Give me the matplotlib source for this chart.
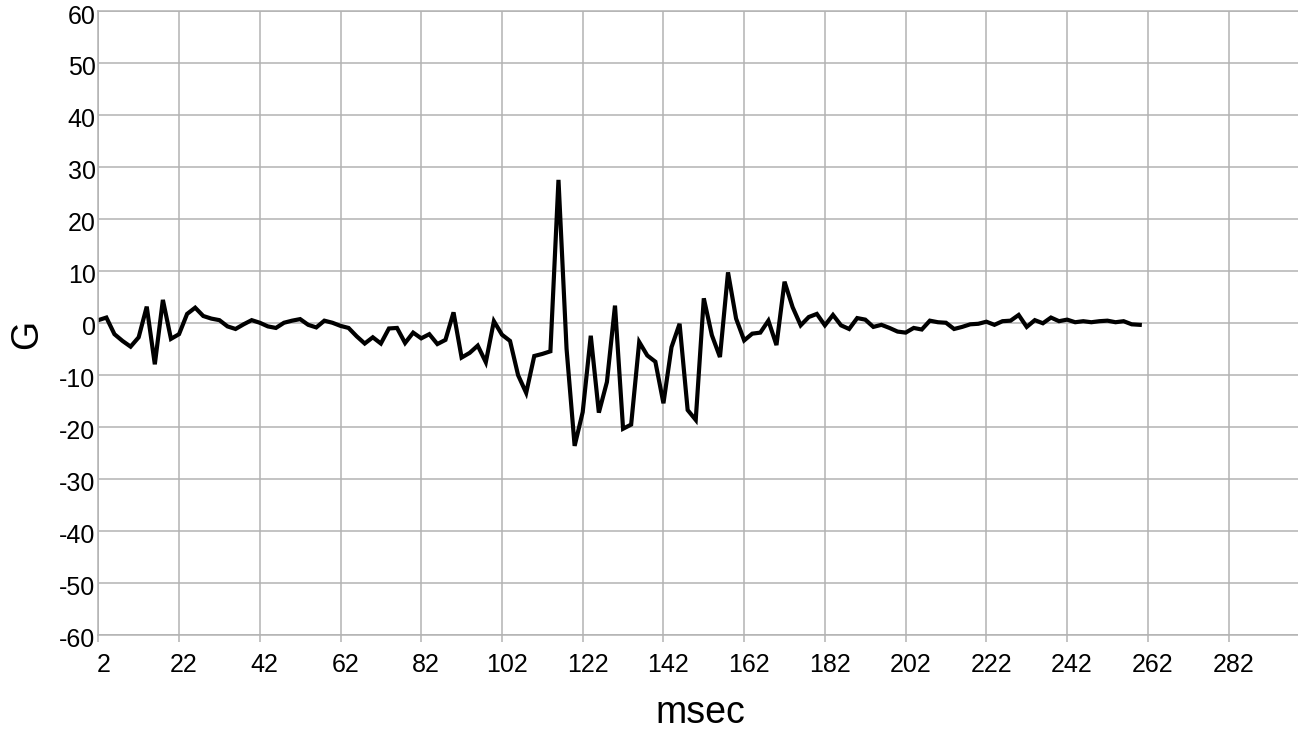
import numpy as np
import matplotlib
matplotlib.use("Agg")
import matplotlib.pyplot as plt
from matplotlib.transforms import ScaledTranslation

# acceleration trace, one sample every 2 msec
msec = np.arange(2, 262, 2)
G = [0.5, 1.0, -2.2, -3.5, -4.6, -2.8, 3.1, -8.0, 4.4, -3.1,
     -2.2, 1.7, 2.9, 1.3, 0.8, 0.5, -0.7, -1.2, -0.3, 0.5,
     0.0, -0.7, -1.0, 0.0, 0.4, 0.7, -0.4, -0.9, 0.4, 0.0,
     -0.6, -1.0, -2.6, -4.0, -2.8, -4.0, -1.1, -1.0, -3.9, -1.9,
     -3.0, -2.2, -4.1, -3.3, 2.0, -6.7, -5.8, -4.4, -7.6, 0.3,
     -2.3, -3.5, -10.1, -13.5, -6.4, -6.0, -5.5, 27.5, -5.0, -23.7,
     -17.2, -2.5, -17.3, -11.4, 3.3, -20.4, -19.6, -3.7, -6.3, -7.5,
     -15.5, -4.7, -0.2, -16.8, -18.7, 4.7, -2.4, -6.6, 9.7, 0.8,
     -3.4, -2.1, -1.9, 0.4, -4.3, 7.9, 3.0, -0.5, 1.1, 1.7,
     -0.5, 1.5, -0.5, -1.2, 0.9, 0.6, -0.8, -0.4, -1.0, -1.7,
     -1.9, -1.0, -1.3, 0.4, 0.1, 0.0, -1.2, -0.8, -0.3, -0.2,
     0.2, -0.4, 0.3, 0.4, 1.5, -0.8, 0.5, -0.1, 1.0, 0.3,
     0.6, 0.1, 0.3, 0.1, 0.3, 0.4, 0.1, 0.3, -0.3, -0.4]

xticks = np.arange(2, 283, 20)
yticks = np.arange(-60, 61, 10)

plt.rcParams['font.family'] = ['Liberation Sans', 'DejaVu Sans']
plt.rcParams['axes.unicode_minus'] = False
gridcol = '#b3b3b3'

fig = plt.figure(figsize=(12.98, 7.33), dpi=100)
ax = fig.add_axes([98.3/1298, 1 - 634.5/733, 1 - 98.3/1298, (634.5 - 11)/733])

ax.plot(msec, G, color='black', lw=3.0, solid_joinstyle='miter')

ax.set_xlim(2, 299.2)
ax.set_ylim(-60, 60)
ax.set_xticks(xticks)
ax.set_yticks(yticks)
ax.grid(True, color=gridcol, lw=1.1)
ax.set_axisbelow(True)
for s in ['left', 'top', 'bottom']:
    ax.spines[s].set_color(gridcol)
    ax.spines[s].set_linewidth(1.1)
ax.spines['right'].set_visible(False)

ax.tick_params(axis='x', length=5, width=1.1, color=gridcol, pad=8, labelsize=18)
ax.tick_params(axis='y', length=0, pad=2, labelsize=18)

# nudge tick labels the way the original chart sits them
for lab in ax.get_xticklabels():
    lab.set_transform(lab.get_transform() + ScaledTranslation(0.05, 0, fig.dpi_scale_trans))
for lab in ax.get_yticklabels():
    lab.set_transform(lab.get_transform() + ScaledTranslation(0, -0.03, fig.dpi_scale_trans))

fig.text(27/1298, 1 - 334/733, 'G', rotation=90, ha='center', va='center', fontsize=27)
fig.text(700/1298, 1 - 723/733, 'msec', ha='center', va='baseline', fontsize=27)

fig.savefig('out.png', dpi=100)
